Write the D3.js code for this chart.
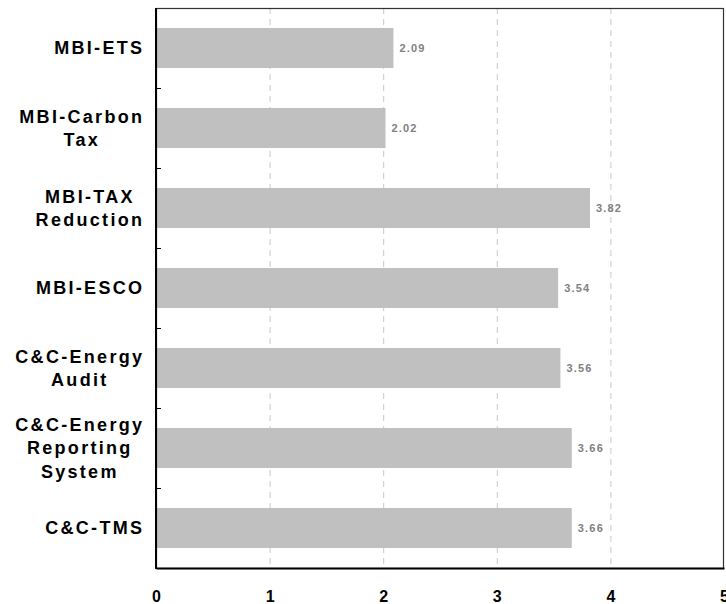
<!DOCTYPE html>
<html>
<head>
<meta charset="utf-8">
<script src="https://cdn.jsdelivr.net/npm/d3@7"></script>
<style>
  body { margin: 0; background: #fff; }
  svg text { font-family: "Liberation Sans", Arial, sans-serif; font-weight: bold; }
</style>
</head>
<body>
<div id="chart"></div>
<script>
// data
let categories = [
    ["MBI-ETS"],
    ["MBI-Carbon", "Tax"],
    ["MBI-TAX", "Reduction"],
    ["MBI-ESCO"],
    ["C&C-Energy", "Audit"],
    ["C&C-Energy", "Reporting", "System"],
    ["C&C-TMS"]
];
let values = [2.09, 2.02, 3.82, 3.54, 3.56, 3.66, 3.66];
let xTicks = [0, 1, 2, 3, 4, 5];

let svgWidth = 726;
let svgHeight = 604;

let margin = { top: 8, right: 2, bottom: 36, left: 156 };
let width = svgWidth - margin.left - margin.right;
let height = svgHeight - margin.top - margin.bottom;

let svg = d3.select("#chart")
    .append("svg")
    .attr("width", svgWidth)
    .attr("height", svgHeight);

let chartGroup = svg.append("g")
    .attr("transform", `translate(${margin.left}, ${margin.top})`);

let idx = d3.range(values.length);

let xScale = d3.scaleLinear().domain([0, 5]).range([0, width]);
let yScale = d3.scaleBand().domain(idx).range([0, height]).paddingInner(0.5).paddingOuter(0.25);

// dashed grid
chartGroup.selectAll(".grid")
    .data(xTicks.slice(1, -1))
    .enter()
    .append("line")
    .attr("x1", d => xScale(d) + 0.5)
    .attr("x2", d => xScale(d) + 0.5)
    .attr("y1", 0)
    .attr("y2", height)
    .attr("stroke", "#c8c8c8")
    .attr("stroke-width", 1)
    .attr("stroke-dasharray", "6,5");

// bars
chartGroup.selectAll(".bar")
    .data(values)
    .enter()
    .append("rect")
    .attr("x", 0)
    .attr("y", (d, i) => yScale(i))
    .attr("width", d => xScale(d))
    .attr("height", yScale.bandwidth())
    .attr("fill", "#c0c0c0");

// value labels
chartGroup.selectAll(".val")
    .data(values)
    .enter()
    .append("text")
    .attr("x", d => xScale(d) + 6)
    .attr("y", (d, i) => yScale(i) + yScale.bandwidth() / 2)
    .attr("dy", "0.35em")
    .attr("font-size", "11px")
    .attr("letter-spacing", "1.2px")
    .attr("fill", "#808080")
    .text(d => d.toFixed(2));

// frame: top and right
chartGroup.append("rect")
    .attr("x", 0.5).attr("y", 0.5)
    .attr("width", width - 1).attr("height", height)
    .attr("fill", "none")
    .attr("stroke", "#333")
    .attr("stroke-width", 1.2);

// x axis
let bottomAxis = d3.axisBottom(xScale).tickValues(xTicks).tickSize(0).tickPadding(23).tickFormat(d3.format("d"));
let xAxis = chartGroup.append("g")
    .attr("transform", `translate(0, ${height})`)
    .call(bottomAxis);
xAxis.select(".domain").attr("stroke", "#000").attr("stroke-width", 2);
xAxis.selectAll("text")
    .attr("font-size", "16px")
    .attr("fill", "#000")
    .attr("font-family", "'Liberation Sans', Arial, sans-serif")
    .attr("font-weight", "bold");

// left axis with ticks between categories
let step = yScale.step();
let sepTicks = d3.range(1, values.length).map(i => yScale(i) - step * yScale.paddingInner() / 2);
chartGroup.append("line")
    .attr("x1", 0).attr("x2", 0)
    .attr("y1", 0).attr("y2", height + 1)
    .attr("stroke", "#000").attr("stroke-width", 2);
chartGroup.selectAll(".ytick")
    .data(sepTicks)
    .enter()
    .append("line")
    .attr("x1", 0).attr("x2", 5)
    .attr("y1", d => Math.round(d) + 0.5).attr("y2", d => Math.round(d) + 0.5)
    .attr("stroke", "#000").attr("stroke-width", 1);

// category labels: block right-aligned, lines centred in block
let lineH = 23.5;
let spacing = 2.3;
let labelRight = -14 + spacing;
categories.forEach(function (lines, i) {
    let g = chartGroup.append("g");
    let cy = yScale(i) + yScale.bandwidth() / 2;
    let texts = lines.map(function (s, j) {
        return g.append("text")
            .attr("y", cy + (j - (lines.length - 1) / 2) * lineH)
            .attr("dy", "0.35em")
            .attr("font-size", "18px")
            .attr("letter-spacing", spacing + "px")
            .attr("fill", "#000")
            .attr("text-anchor", "middle")
            .text(s);
    });
    let maxW = d3.max(texts, t => t.node().getComputedTextLength());
    texts.forEach(t => t.attr("x", labelRight - maxW / 2));
});
</script>
</body>
</html>
